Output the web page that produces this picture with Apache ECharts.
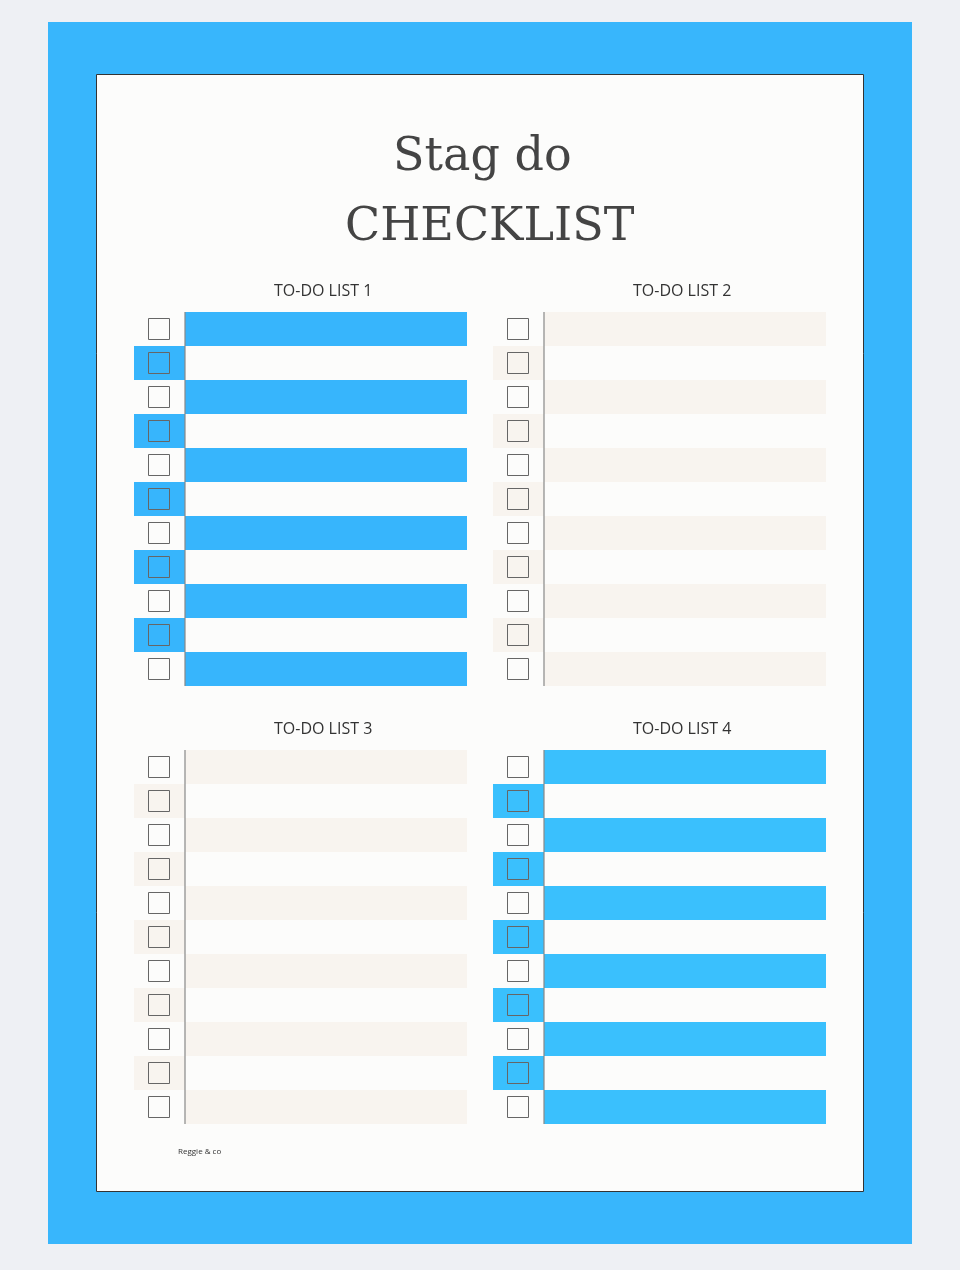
<!DOCTYPE html>
<html lang="en">
  <head>
    <meta charset="UTF-8" />
    <title>Stag do checklist</title>
    <script src="https://cdn.jsdelivr.net/npm/echarts@6/dist/echarts.min.js"></script>
    <style>
      body { margin: 0; background: #eef0f4; }
    </style>
  </head>
  <body>
    <div id="main" style="width: 960px; height: 1270px"></div>
  </body>
  <script type="text/javascript">
    // one entry per checklist row, top to bottom
    const rows = ["1", "2", "3", "4", "5", "6", "7", "8", "9", "10", "11"];
    const listNames = ["TO-DO LIST 1", "TO-DO LIST 2", "TO-DO LIST 3", "TO-DO LIST 4"];
    const listColors = ["#37b5fc", "#f8f4ef", "#f8f4ef", "#3ac0fd"];
    // grid position of each list (left, top)
    const listPos = [[134, 312], [493, 312], [134, 750], [493, 750]];
    // stripe rows get a long bar, other rows a tab behind the checkbox
    const rowKinds = rows.map((r, i) => (i % 2 === 0 ? "stripe" : "tab"));

    const TAB_W = 51, FULL_W = 333;

    var chartDom = document.getElementById("main");
    var myChart = echarts.init(chartDom);

    function renderRow(color) {
      return function (params, api) {
        const row = api.value(0);
        const kind = rowKinds[row];
        const h = api.size([0, 1])[1];
        const c = api.coord([0, row]);
        const x0 = c[0], yTop = c[1] - h / 2;
        const xTab = api.coord([TAB_W, row])[0];
        const xEnd = api.coord([FULL_W, row])[0];
        const children = [];
        if (kind === "stripe") {
          children.push({ type: "rect", shape: { x: xTab, y: yTop, width: xEnd - xTab, height: h }, style: { fill: color } });
        } else {
          children.push({ type: "rect", shape: { x: x0, y: yTop, width: xTab - x0, height: h }, style: { fill: color } });
        }
        children.push({ type: "rect", shape: { x: x0 + 14.5, y: c[1] - 10.5, width: 21, height: 21 },
          style: { fill: "none", stroke: "#666", lineWidth: 1 } });
        children.push({ type: "line", shape: { x1: xTab, y1: yTop, x2: xTab, y2: yTop + h },
          style: { stroke: "#888", lineWidth: 1.2 } });
        return { type: "group", children: children };
      };
    }

    const grids = [], xAxes = [], yAxes = [], series = [], titles = [];
    listNames.forEach((name, i) => {
      grids.push({ left: listPos[i][0], top: listPos[i][1], width: FULL_W, height: 374 });
      xAxes.push({ type: "value", min: 0, max: FULL_W, gridIndex: i, show: false });
      yAxes.push({ type: "category", data: rows, inverse: true, gridIndex: i, show: false });
      series.push({
        type: "custom", xAxisIndex: i, yAxisIndex: i, z: 3,
        renderItem: renderRow(listColors[i]),
        data: rows.map((r, k) => [k])
      });
      titles.push({
        text: name, left: listPos[i][0] + 135, top: listPos[i][1] - 34,
        textStyle: { fontFamily: "Open Sans", fontSize: 16, fontWeight: "normal", color: "#333" }
      });
    });
    const serifTitle = { fontFamily: "DejaVu Serif", fontSize: 46, fontWeight: "normal", color: "#444" };
    titles.push({ text: "Stag do", left: 388, top: 130, textStyle: serifTitle });
    titles.push({ text: "CHECKLIST", left: 340, top: 200, textStyle: serifTitle });
    titles.push({ text: "Reggie & co", left: 173, top: 1143,
      textStyle: { fontFamily: "Open Sans", fontSize: 8, fontWeight: "normal", color: "#333" } });

    var option = {
      animation: false,
      title: titles,
      graphic: [
        { type: "rect", z: 0, shape: { x: 48, y: 22, width: 864, height: 1222 }, style: { fill: "#38b6fc" } },
        { type: "rect", z: 1, shape: { x: 96.5, y: 74.5, width: 767, height: 1117 },
          style: { fill: "#fcfcfb", stroke: "#333", lineWidth: 1 } }
      ],
      grid: grids,
      xAxis: xAxes,
      yAxis: yAxes,
      series: series
    };

    option && myChart.setOption(option);
  </script>
</html>
